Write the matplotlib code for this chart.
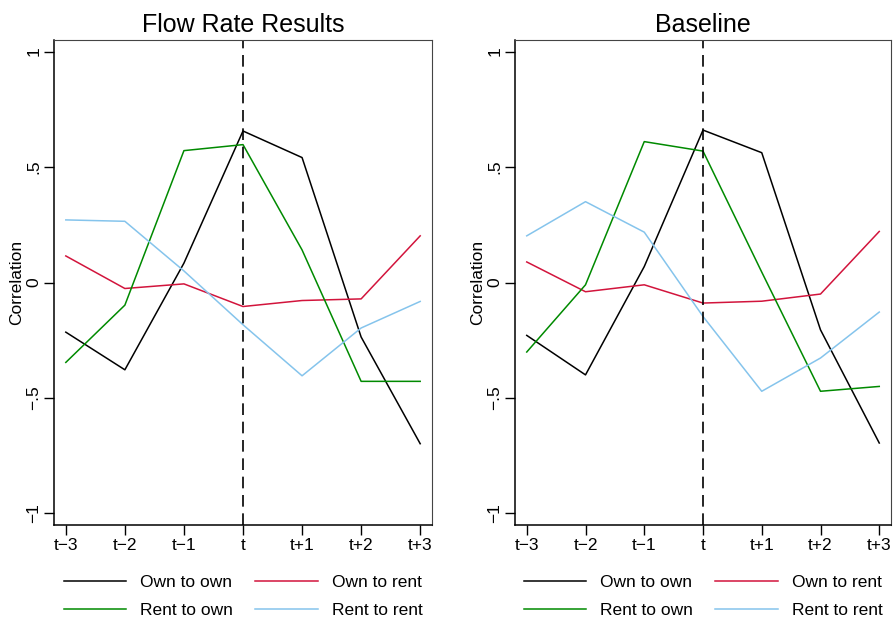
import matplotlib
matplotlib.use('Agg')
import matplotlib.pyplot as plt

plt.rcParams['font.family'] = ['Liberation Sans', 'DejaVu Sans']

periods = ['t\u22123', 't\u22122', 't\u22121', 't', 't+1', 't+2', 't+3']
series_names = ['Own to own', 'Own to rent', 'Rent to own', 'Rent to rent']
series_colors = ['black', '#d2143c', '#008a00', '#85c4ec']

# Flow Rate Results panel
flow_own_own = [-0.215, -0.378, 0.084, 0.656, 0.541, -0.236, -0.698]
flow_own_rent = [0.115, -0.026, -0.006, -0.104, -0.078, -0.071, 0.202]
flow_rent_own = [-0.346, -0.098, 0.571, 0.597, 0.141, -0.428, -0.428]
flow_rent_rent = [0.271, 0.265, 0.05, -0.183, -0.404, -0.197, -0.082]

# Baseline panel
base_own_own = [-0.229, -0.40, 0.069, 0.66, 0.562, -0.205, -0.695]
base_own_rent = [0.089, -0.040, -0.010, -0.089, -0.081, -0.050, 0.221]
base_rent_own = [-0.301, -0.010, 0.61, 0.569, 0.045, -0.471, -0.45]
base_rent_rent = [0.202, 0.350, 0.218, -0.147, -0.471, -0.327, -0.128]

yticks = [-1, -0.5, 0, 0.5, 1]
ytick_labels = ['\u22121', '\u2212.5', '0', '.5', '1']

panels = [
    ('Flow Rate Results', [flow_own_own, flow_own_rent, flow_rent_own, flow_rent_rent]),
    ('Baseline', [base_own_own, base_own_rent, base_rent_own, base_rent_rent]),
]

fig = plt.figure(figsize=(8.96, 6.26), dpi=100)
axes_pos = [[54 / 896, 1 - 525 / 626, 378 / 896, 485 / 626],
            [515 / 896, 1 - 525 / 626, 376 / 896, 485 / 626]]

for pos, (title, data) in zip(axes_pos, panels):
    ax = fig.add_axes(pos)
    x = list(range(len(periods)))
    for vals, name, col in zip(data, series_names, series_colors):
        ax.plot(x, vals, color=col, lw=1.1, label=name)
    ax.axvline(3, color='black', lw=1.2, linestyle=(0, (7, 4)))
    ax.set_xlim(-0.2, 6.2)
    ax.set_ylim(-1.05, 1.05)
    ax.set_xticks(x)
    ax.set_xticklabels(periods, fontsize=12.5)
    ax.set_yticks(yticks)
    ax.set_yticklabels(ytick_labels, fontsize=12.5, rotation=90, va='center')
    ax.tick_params(axis='both', direction='out', length=7, width=1, color='black')
    ax.tick_params(axis='x', pad=2.5)
    ax.tick_params(axis='y', pad=2)
    for side in ['top', 'right']:
        ax.spines[side].set_color('#444444')
        ax.spines[side].set_linewidth(0.8)
    for side in ['left', 'bottom']:
        ax.spines[side].set_color('black')
        ax.spines[side].set_linewidth(1.1)
    ax.set_title(title, fontsize=18, pad=6)
    ax.set_ylabel('Correlation', fontsize=12.5)
    ax.yaxis.set_label_coords(-0.08, 0.5)
    handles, labels = ax.get_legend_handles_labels()
    order = [0, 2, 1, 3]
    ax.legend([handles[i] for i in order], [labels[i] for i in order],
              loc='upper center', bbox_to_anchor=(0.5, -0.07), ncol=2,
              frameon=False, fontsize=12.5, handlelength=3.6,
              handletextpad=0.8, columnspacing=1.3, labelspacing=0.75)

fig.savefig('out.png', dpi=100)
